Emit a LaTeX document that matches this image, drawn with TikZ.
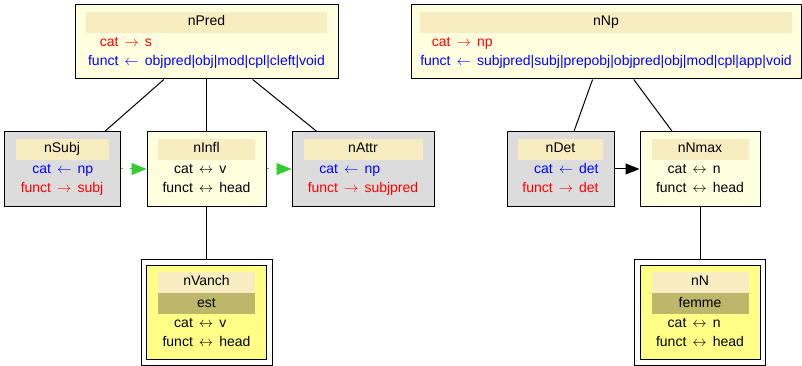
\documentclass[tikz,border=0pt]{standalone}
\usepackage{fontspec}
\setmainfont{Liberation Sans}
\usepackage{tikz}
\usetikzlibrary{positioning,arrows.meta}
\definecolor{headfill}{HTML}{F8EDC0}
\definecolor{boxfill}{HTML}{FFFFE0}
\definecolor{grayfill}{HTML}{DCDCDC}
\definecolor{anchfill}{HTML}{FFFF88}
\definecolor{wordfill}{HTML}{BDB76B}
\definecolor{hintgreen}{HTML}{33CC33}
\newcommand{\frow}[4]{\textcolor{#1}{#2} & \textcolor{#1}{$#3$} & \textcolor{#1}{#4}}
\tikzset{
    fbox/.style={rectangle,draw=black,line width=1pt,fill=boxfill,minimum height=74pt,inner sep=0pt},
    graybox/.style={fbox,fill=grayfill},
    anchbox/.style={rectangle,draw=black,line width=1pt,fill=anchfill,minimum width=120pt,minimum height=94pt,inner sep=0pt},
    outerbox/.style={rectangle,draw=black,line width=1pt,fill=white,minimum width=131pt,minimum height=106pt,inner sep=0pt},
    head/.style={rectangle,fill=headfill,minimum width=#1,minimum height=21pt,text height=10pt,text depth=3pt,inner sep=0pt,text centered},
    word/.style={head=#1,fill=wordfill},
    feats/.style={inner sep=0pt},
    link/.style={line width=1pt},
    hint/.style={draw=hintgreen,line width=1pt,dash pattern=on 2pt off 7pt,-{Triangle[length=15pt,width=12pt,fill=hintgreen]}},
    dep/.style={line width=1pt,-{Triangle[length=14pt,width=11pt]}},
}
\newcommand{\ftab}[1]{\begin{tabular}{r@{\hspace{6pt}}c@{\hspace{6pt}}l}#1\end{tabular}}

\begin{document}
\begin{tikzpicture}[x=1pt,y=-1pt,font=\fontsize{14}{19}\selectfont]
\useasboundingbox (0,0) rectangle (802,366);
% left tree
\node[fbox,minimum width=263pt](nPred) at (206.5,42) {};
\node[head=241pt](nPredH) [below=7pt of nPred.north] {nPred};
\node[feats](nPredF) [below=0pt of nPredH] {\ftab{\frow{red}{cat}{\rightarrow}{s}\\ \frow{blue}{funct}{\leftarrow}{objpred|obj|mod|cpl|cleft|void}}};
\node[graybox,minimum width=116pt](nSubj) at (62,169) {};
\node[head=93pt](nSubjH) [below=7pt of nSubj.north] {nSubj};
\node[feats](nSubjF) [below=0pt of nSubjH] {\ftab{\frow{blue}{cat}{\leftarrow}{np}\\ \frow{red}{funct}{\rightarrow}{subj}}};
\node[fbox,minimum width=119pt](nInfl) at (206.5,169) {};
\node[head=97pt](nInflH) [below=7pt of nInfl.north] {nInfl};
\node[feats](nInflF) [below=0pt of nInflH] {\ftab{\frow{black}{cat}{\leftrightarrow}{v}\\ \frow{black}{funct}{\leftrightarrow}{head}}};
\node[graybox,minimum width=142pt](nAttr) at (363,169) {};
\node[head=119pt](nAttrH) [below=7pt of nAttr.north] {nAttr};
\node[feats](nAttrF) [below=0pt of nAttrH] {\ftab{\frow{blue}{cat}{\leftarrow}{np}\\ \frow{red}{funct}{\rightarrow}{subjpred}}};
\node[outerbox](nVanch) at (206.5,312) {};
\node[anchbox](nVanchI) at (206.5,312) {};
\node[head=97pt](nVanchH) [below=7pt of nVanchI.north] {nVanch};
\node[word=97pt](nVanchW) [below=0pt of nVanchH] {est};
\node[feats](nVanchF) [below=0pt of nVanchW] {\ftab{\frow{black}{cat}{\leftrightarrow}{v}\\ \frow{black}{funct}{\leftrightarrow}{head}}};
% right tree
\node[fbox,minimum width=390pt](nNp) at (606,42) {};
\node[head=372pt](nNpH) [below=7pt of nNp.north] {nNp};
\node[feats](nNpF) [below=0pt of nNpH] {\ftab{\frow{red}{cat}{\rightarrow}{np}\\ \frow{blue}{funct}{\leftarrow}{subjpred|subj|prepobj|objpred|obj|mod|cpl|app|void}}};
\node[graybox,minimum width=107pt](nDet) at (560.5,169) {};
\node[head=85pt](nDetH) [below=7pt of nDet.north] {nDet};
\node[feats](nDetF) [below=0pt of nDetH] {\ftab{\frow{blue}{cat}{\leftarrow}{det}\\ \frow{red}{funct}{\rightarrow}{det}}};
\node[fbox,minimum width=120pt](nNmax) at (700,169) {};
\node[head=97pt](nNmaxH) [below=7pt of nNmax.north] {nNmax};
\node[feats](nNmaxF) [below=0pt of nNmaxH] {\ftab{\frow{black}{cat}{\leftrightarrow}{n}\\ \frow{black}{funct}{\leftrightarrow}{head}}};
\node[outerbox](nN) at (700,312) {};
\node[anchbox](nNI) at (700,312) {};
\node[head=97pt](nNH) [below=7pt of nNI.north] {nN};
\node[word=97pt](nNW) [below=0pt of nNH] {femme};
\node[feats](nNF) [below=0pt of nNW] {\ftab{\frow{black}{cat}{\leftrightarrow}{n}\\ \frow{black}{funct}{\leftrightarrow}{head}}};
% connectors
\draw[link] (nPred) -- (nSubj);
\draw[link] (nPred) -- (nInfl);
\draw[link] (nPred) -- (nAttr);
\draw[link] (nInfl) -- (nVanch);
\draw[link] (nNp) -- (nDet);
\draw[link] (nNp) -- (nNmax);
\draw[link] (nNmax) -- (nN);
\draw[hint] (nSubj) -- (nInfl);
\draw[hint] (nInfl) -- (nAttr);
\draw[dep] (nDet) -- (nNmax);
\end{tikzpicture}
\end{document}
